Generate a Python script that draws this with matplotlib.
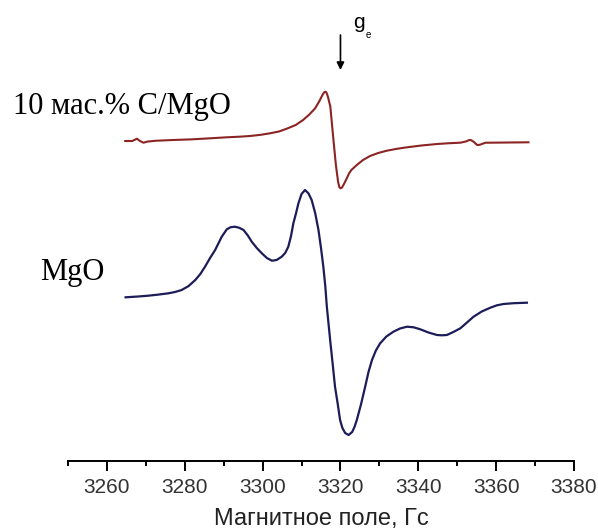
import matplotlib
matplotlib.use('Agg')
import matplotlib.pyplot as plt
from matplotlib.ticker import MultipleLocator

# spectra (field in Gs, intensity in arbitrary units)
field_c = [3264.7, 3266.5, 3267.3, 3267.7, 3268.5, 3269.4, 3270.5, 3272.8, 3277.0,
           3282.1, 3286.5, 3290.8, 3294.0, 3296.8, 3299.5, 3301.9, 3304.2, 3306.2,
           3308.5, 3310.4, 3312.0, 3313.5, 3314.6, 3315.3, 3315.8, 3316.1, 3316.4,
           3316.8, 3317.4, 3318.2, 3318.8, 3319.1, 3319.4, 3319.7, 3320.0, 3320.4,
           3320.9, 3321.6, 3322.2, 3322.8, 3324.2, 3325.8, 3327.6, 3329.7, 3331.9,
           3334.5, 3337.1, 3340.8, 3344.8, 3348.0, 3350.8, 3352.2, 3353.0, 3353.5,
           3354.3, 3355.1, 3355.8, 3356.3, 3357.3, 3358.5, 3363.0, 3368.3]
signal_c = [1.0, 1.0, 2.5, 3.3, 1.0, -0.7, 0.5, 1.3, 2.0,
            2.7, 3.7, 4.7, 5.3, 6.0, 7.2, 8.7, 10.5, 13.3,
            17.0, 22.0, 27.5, 33.7, 41.0, 46.5, 49.6, 50.3, 49.5,
            45.0, 35.3, 2.0, -22.0, -31.3, -40.0, -45.0, -46.3, -45.5,
            -42.0, -36.5, -31.5, -28.0, -23.0, -18.0, -14.0, -11.0, -8.7,
            -6.8, -5.3, -3.5, -2.0, -1.2, -0.7, 0.5, 1.8, 2.0,
            0.0, -3.0, -2.8, -2.0, -0.7, -0.7, -0.5, -0.3]

field_mgo = [3264.8, 3268.0, 3270.6, 3273.0, 3275.8, 3277.5, 3279.2, 3281.0, 3282.7,
             3284.0, 3285.2, 3286.5, 3287.8, 3289.5, 3290.8, 3291.8, 3292.9, 3294.0,
             3295.1, 3296.2, 3297.2, 3298.5, 3299.8, 3301.1, 3302.4, 3303.6, 3304.9,
             3305.8, 3306.6, 3307.3, 3307.9, 3308.6, 3309.2, 3310.0, 3310.9, 3311.8,
             3312.6, 3313.5, 3314.35, 3315.0, 3315.6, 3316.1, 3316.5, 3317.35, 3318.0,
             3318.6, 3319.3, 3319.9, 3320.5, 3321.2, 3322.1, 3323.0, 3323.6, 3324.2,
             3325.3, 3326.35, 3327.2, 3328.1, 3329.1, 3330.2, 3331.8, 3333.6, 3335.3,
             3337.1, 3338.8, 3340.5, 3342.6, 3344.8, 3346.0, 3347.35, 3349.0, 3350.8,
             3352.5, 3354.2, 3356.3, 3358.5, 3360.2, 3361.9, 3364.5, 3367.9]
signal_mgo = [0.7, 1.5, 2.3, 3.3, 4.7, 6.0, 8.0, 12.0, 18.0,
              24.0, 31.3, 40.0, 48.0, 61.3, 68.7, 70.8, 71.3, 70.2,
              68.0, 62.5, 56.3, 50.0, 44.7, 40.0, 37.3, 38.0, 41.3,
              45.0, 51.3, 62.0, 74.7, 85.0, 94.7, 104.0, 108.0, 104.5,
              98.0, 85.0, 68.0, 50.0, 31.3, 12.0, -8.7, -42.0, -66.0,
              -88.7, -106.0, -122.0, -130.0, -135.0, -137.0, -134.0, -129.0, -122.0,
              -106.0, -88.7, -74.0, -62.0, -52.5, -45.3, -38.5, -33.7, -30.5,
              -28.7, -29.3, -31.3, -34.5, -37.0, -37.3, -37.0, -34.0, -30.3,
              -24.5, -18.7, -13.5, -9.7, -7.3, -6.0, -5.2, -4.7]

offset_c = 318.7
offset_mgo = 162.7
g_e = 3320

W, H, DPI = 598, 532, 100
fig = plt.figure(figsize=(W / DPI, H / DPI), dpi=DPI)
ax = fig.add_axes([68 / W, 71.3 / H, 506 / W, 460.7 / H])

ax.plot(field_c, [s + offset_c for s in signal_c], color='#8c2424', lw=1.5,
        solid_joinstyle='round')
ax.plot(field_mgo, [s + offset_mgo for s in signal_mgo], color='#1c1c58', lw=1.6,
        solid_joinstyle='round')

ax.set_xlim(3250, 3380)
ax.set_ylim(0, 460.7)

for side in ('top', 'left', 'right'):
    ax.spines[side].set_visible(False)
ax.spines['bottom'].set_linewidth(1.4)
ax.set_yticks([])
ax.xaxis.set_major_locator(MultipleLocator(20))
ax.xaxis.set_minor_locator(MultipleLocator(10))
ax.tick_params(axis='x', which='major', length=7.2, width=1.4, pad=5,
               labelsize=15, labelcolor='#333333')
ax.tick_params(axis='x', which='minor', length=3.6, width=1.4)
ax.set_xticks(range(3260, 3381, 20))
for lbl in ax.get_xticklabels():
    lbl.set_family('Liberation Sans')
ax.set_xlabel('Магнитное поле, Гс', family='Liberation Sans', fontsize=17,
              color='#222222', labelpad=8)

# g_e marker
ax.annotate('', xy=(g_e, 390.7), xytext=(g_e, 425.7),
            arrowprops=dict(arrowstyle='-|>', color='black', lw=1.2,
                            mutation_scale=11, shrinkA=0, shrinkB=0),
            annotation_clip=False)
fig.text(353 / W, 1 - 28 / H, 'g', family='Liberation Sans', fontsize=15,
         va='baseline', ha='left')
fig.text(366 / W, 1 - 38 / H, 'e', family='Liberation Sans', fontsize=7,
         va='baseline', ha='left')

fig.text(12.7 / W, 1 - 114.3 / H, '10 мас.% C/MgO', family='Liberation Serif',
         fontsize=22, va='baseline', ha='left')
fig.text(40 / W, 1 - 280 / H, 'MgO', family='Liberation Serif',
         fontsize=22, va='baseline', ha='left')

fig.savefig('out.png', dpi=DPI)
